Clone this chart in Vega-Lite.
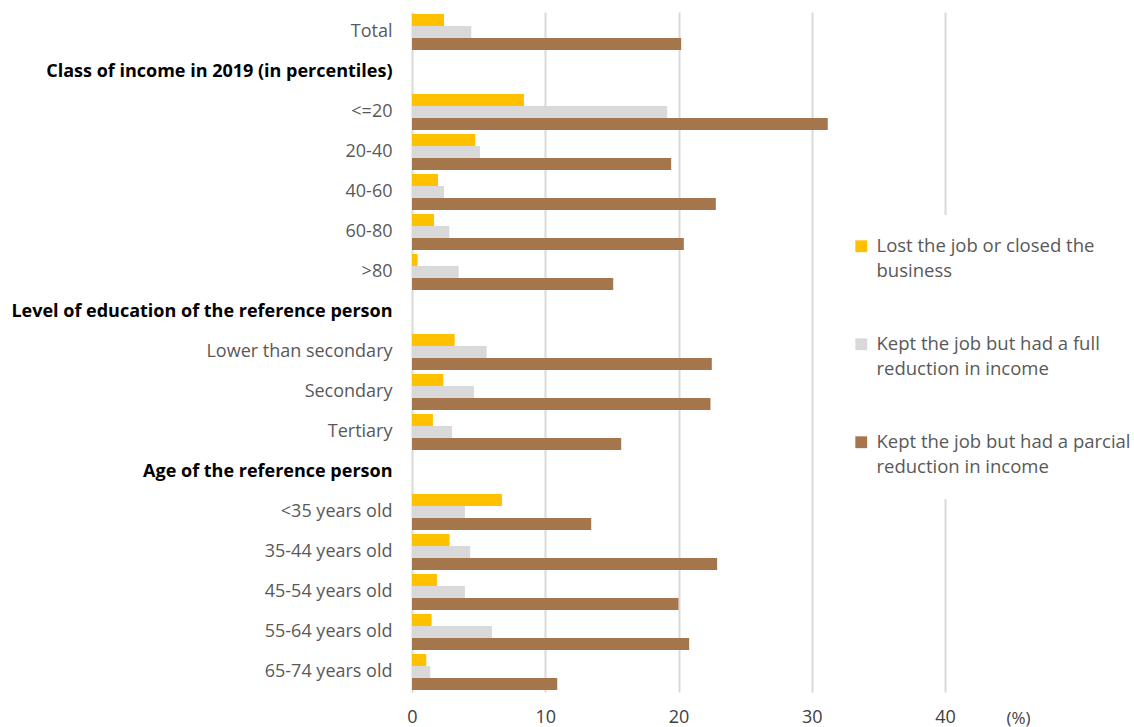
{
  "$schema": "https://vega.github.io/schema/vega-lite/v6.json",
  "width": 533,
  "height": 680,
  "autosize": {"type": "none"},
  "padding": {"left": 412, "top": 12, "right": 189, "bottom": 35},
  "background": "white",
  "config": {"view": {"stroke": null}, "font": "Open Sans"},
  "data": {
    "values": [
      {"cat": "Total", "series": "Lost the job or closed the business", "value": 2.4},
      {"cat": "Total", "series": "Kept the job but had a full reduction in income", "value": 4.45},
      {"cat": "Total", "series": "Kept the job but had a parcial reduction in income", "value": 20.2},
      {"cat": "<=20", "series": "Lost the job or closed the business", "value": 8.4},
      {"cat": "<=20", "series": "Kept the job but had a full reduction in income", "value": 19.15},
      {"cat": "<=20", "series": "Kept the job but had a parcial reduction in income", "value": 31.2},
      {"cat": "20-40", "series": "Lost the job or closed the business", "value": 4.75},
      {"cat": "20-40", "series": "Kept the job but had a full reduction in income", "value": 5.1},
      {"cat": "20-40", "series": "Kept the job but had a parcial reduction in income", "value": 19.45},
      {"cat": "40-60", "series": "Lost the job or closed the business", "value": 1.95},
      {"cat": "40-60", "series": "Kept the job but had a full reduction in income", "value": 2.4},
      {"cat": "40-60", "series": "Kept the job but had a parcial reduction in income", "value": 22.8},
      {"cat": "60-80", "series": "Lost the job or closed the business", "value": 1.65},
      {"cat": "60-80", "series": "Kept the job but had a full reduction in income", "value": 2.8},
      {"cat": "60-80", "series": "Kept the job but had a parcial reduction in income", "value": 20.4},
      {"cat": ">80", "series": "Lost the job or closed the business", "value": 0.42},
      {"cat": ">80", "series": "Kept the job but had a full reduction in income", "value": 3.5},
      {"cat": ">80", "series": "Kept the job but had a parcial reduction in income", "value": 15.1},
      {"cat": "Lower than secondary", "series": "Lost the job or closed the business", "value": 3.2},
      {"cat": "Lower than secondary", "series": "Kept the job but had a full reduction in income", "value": 5.6},
      {"cat": "Lower than secondary", "series": "Kept the job but had a parcial reduction in income", "value": 22.5},
      {"cat": "Secondary", "series": "Lost the job or closed the business", "value": 2.35},
      {"cat": "Secondary", "series": "Kept the job but had a full reduction in income", "value": 4.65},
      {"cat": "Secondary", "series": "Kept the job but had a parcial reduction in income", "value": 22.4},
      {"cat": "Tertiary", "series": "Lost the job or closed the business", "value": 1.57},
      {"cat": "Tertiary", "series": "Kept the job but had a full reduction in income", "value": 3.0},
      {"cat": "Tertiary", "series": "Kept the job but had a parcial reduction in income", "value": 15.7},
      {"cat": "<35 years old", "series": "Lost the job or closed the business", "value": 6.75},
      {"cat": "<35 years old", "series": "Kept the job but had a full reduction in income", "value": 3.97},
      {"cat": "<35 years old", "series": "Kept the job but had a parcial reduction in income", "value": 13.45},
      {"cat": "35-44 years old", "series": "Lost the job or closed the business", "value": 2.82},
      {"cat": "35-44 years old", "series": "Kept the job but had a full reduction in income", "value": 4.37},
      {"cat": "35-44 years old", "series": "Kept the job but had a parcial reduction in income", "value": 22.9},
      {"cat": "45-54 years old", "series": "Lost the job or closed the business", "value": 1.87},
      {"cat": "45-54 years old", "series": "Kept the job but had a full reduction in income", "value": 3.97},
      {"cat": "45-54 years old", "series": "Kept the job but had a parcial reduction in income", "value": 20.0},
      {"cat": "55-64 years old", "series": "Lost the job or closed the business", "value": 1.47},
      {"cat": "55-64 years old", "series": "Kept the job but had a full reduction in income", "value": 6.0},
      {"cat": "55-64 years old", "series": "Kept the job but had a parcial reduction in income", "value": 20.8},
      {"cat": "65-74 years old", "series": "Lost the job or closed the business", "value": 1.07},
      {"cat": "65-74 years old", "series": "Kept the job but had a full reduction in income", "value": 1.37},
      {"cat": "65-74 years old", "series": "Kept the job but had a parcial reduction in income", "value": 10.9}
    ]
  },
  "mark": {"type": "bar"},
  "encoding": {
    "y": {
      "field": "cat",
      "type": "nominal",
      "scale": {
        "domain": ["Total", "Class of income in 2019 (in percentiles)", "<=20", "20-40", "40-60", "60-80", ">80", "Level of education of the reference person", "Lower than secondary", "Secondary", "Tertiary", "Age of the reference person", "<35 years old", "35-44 years old", "45-54 years old", "55-64 years old", "65-74 years old"],
        "paddingInner": 0.1,
        "paddingOuter": 0.05
      },
      "axis": {
        "title": null,
        "domain": false,
        "ticks": false,
        "labelPadding": 20,
        "labelLimit": 0,
        "labelFontSize": 18,
        "labelFont": "Open Sans",
        "labelColor": {"condition": {"test": "indexof(['Class of income in 2019 (in percentiles)','Level of education of the reference person','Age of the reference person'], datum.value) >= 0", "value": "#000000"}, "value": "#595959"},
        "labelFontWeight": {"condition": {"test": "indexof(['Class of income in 2019 (in percentiles)','Level of education of the reference person','Age of the reference person'], datum.value) >= 0", "value": "bold"}, "value": "normal"}
      }
    },
    "yOffset": {
      "field": "series",
      "type": "nominal",
      "scale": {"domain": ["Lost the job or closed the business", "Kept the job but had a full reduction in income", "Kept the job but had a parcial reduction in income"]}
    },
    "x": {
      "field": "value",
      "type": "quantitative",
      "scale": {"domain": [0, 40], "nice": false},
      "axis": {
        "values": [0, 10, 20, 30, 40],
        "title": "(%)",
        "titleX": 606,
        "titleY": 26,
        "titleAlign": "center",
        "titleBaseline": "middle",
        "titleFontWeight": "normal",
        "titleFontSize": 17,
        "titleColor": "#404040",
        "titleFont": "Open Sans",
        "domain": false,
        "ticks": false,
        "grid": true,
        "gridColor": "#d9d9d9",
        "gridWidth": 2,
        "labelFlush": false,
        "labelFontSize": 18,
        "labelFont": "Open Sans",
        "labelColor": "#404040",
        "labelPadding": 16
      }
    },
    "color": {
      "field": "series",
      "type": "nominal",
      "scale": {
        "domain": ["Lost the job or closed the business", "Kept the job but had a full reduction in income", "Kept the job but had a parcial reduction in income"],
        "range": ["#FFC000", "#D9D9D9", "#A5754B"]
      },
      "legend": {
        "title": null,
        "orient": "none",
        "legendX": 418,
        "legendY": 203,
        "fillColor": "white",
        "padding": 22,
        "symbolType": "square",
        "symbolSize": 140,
        "symbolStrokeWidth": 0,
        "labelFontSize": 18.5,
        "labelFont": "Open Sans",
        "labelColor": "#595959",
        "labelLimit": 0,
        "labelOffset": 6,
        "rowPadding": 54,
        "encode": {"labels": {"update": {"lineHeight": {"value": 25}}}},
        "labelExpr": "datum.label == 'Lost the job or closed the business' ? ['Lost the job or closed the', 'business'] : datum.label == 'Kept the job but had a full reduction in income' ? ['Kept the job but had a full', 'reduction in income'] : ['Kept the job but had a parcial', 'reduction in income']"
      }
    }
  }
}
